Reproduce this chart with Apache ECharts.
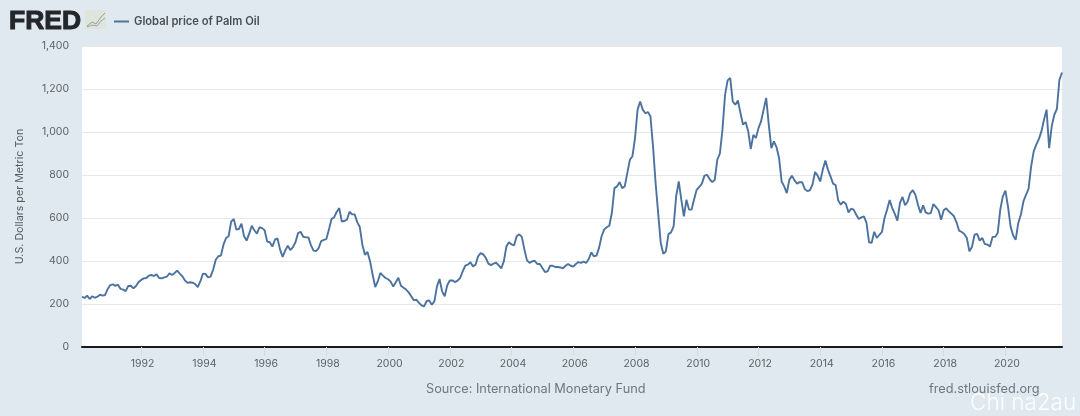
<!DOCTYPE html>
<html>
<head>
<meta charset="utf-8">
<style>html,body{margin:0;padding:0;background:#e1e9f0}#c{width:1080px;height:416px}</style>
<script src="https://cdn.jsdelivr.net/npm/echarts@6/dist/echarts.min.js"></script>
</head>
<body>
<div id="c"></div>
<script>
var seriesName = 'Global price of Palm Oil';
var yTicks = {min: 0, max: 1400, step: 200};
var yAxisTitle = 'U.S. Dollars per Metric Ton';
var sourceText = 'Source: International Monetary Fund';
var siteText = 'fred.stlouisfed.org';
var firstYear = 1990, firstMonth = 2;
var palmOil = [
233,228,239,223,236,229,234,243,239,242,270,288,
291,284,290,270,267,260,284,285,273,284,302,312,
319,321,332,335,330,338,321,319,324,327,343,335,
344,355,341,329,310,298,301,299,293,279,305,341,
340,324,327,360,406,422,425,476,507,515,584,595,
546,549,574,515,495,527,564,543,527,557,553,543,
490,487,467,499,505,453,419,448,471,451,465,487,
530,536,513,510,510,474,448,446,460,493,498,502,
546,595,603,628,646,584,586,592,629,617,617,581,
558,476,429,442,398,336,279,305,344,332,321,315,
304,281,301,322,285,276,267,254,236,217,220,205,
194,189,214,216,197,212,282,316,259,236,287,309,
310,302,309,321,352,378,383,394,375,383,422,437,
431,414,388,381,388,392,380,366,398,468,487,477,
473,515,524,512,453,403,391,398,401,386,386,367,
349,352,378,378,372,372,370,366,378,386,378,374,
386,395,391,397,391,409,440,422,425,460,515,546,
557,564,623,739,747,767,739,747,809,871,887,972,
1104,1142,1104,1087,1093,1073,933,763,623,484,434,445,
525,533,561,701,770,685,608,685,639,639,688,732,
744,760,797,801,781,767,778,871,900,1011,1173,1240,
1251,1142,1127,1147,1088,1034,1046,1003,921,987,972,1018,
1049,1104,1158,1034,925,956,930,879,770,747,716,778,
797,775,760,767,766,735,725,729,755,814,797,770,
825,867,825,794,760,753,682,662,676,665,626,643,
639,615,595,603,608,577,487,485,536,507,522,535,
600,639,684,646,619,588,670,698,659,677,716,729,
708,662,623,659,626,620,623,665,651,636,592,636,
645,631,620,608,580,541,535,526,507,445,465,522,
526,495,507,479,476,468,512,512,530,639,701,727,
654,561,519,499,577,615,677,708,735,840,910,941,
967,1003,1057,1104,925,1026,1080,1107,1243,1277
];
var months = palmOil.map(function (_, i) {
  var t = firstMonth - 1 + i;
  var y = firstYear + Math.floor(t / 12), m = t % 12 + 1;
  return y + '-' + (m < 10 ? '0' + m : m);
});
function isEvenJanuary(i) {
  var p = months[i].split('-');
  return p[1] === '01' && +p[0] % 2 === 0;
}
var uiFont = 'Inter, "Liberation Sans", sans-serif';
var chart = echarts.init(document.getElementById('c'), null, {renderer: 'canvas'});
chart.setOption({
  animation: false,
  backgroundColor: '#e1e9f0',
  textStyle: {fontFamily: uiFont},
  grid: {left: 82, right: 18, top: 46, bottom: 69, backgroundColor: '#ffffff', show: true, borderWidth: 0},
  legend: {
    left: 109, top: 11, icon: 'rect', itemWidth: 15, itemHeight: 2, itemGap: 4,
    textStyle: {fontFamily: uiFont, fontSize: 11.2, fontWeight: 600, color: '#4a4f55'},
    data: [seriesName]
  },
  xAxis: {
    type: 'category', data: months, boundaryGap: false,
    axisLine: {show: true, onZero: false, lineStyle: {color: '#1a1a1a', width: 2}},
    axisTick: {show: true, length: 9, lineStyle: {color: '#d3dbe2'}, interval: function (i) { return isEvenJanuary(i); }},
    axisLabel: {
      color: '#5c6166', fontSize: 10.5, margin: 11, padding: [0, 0, 0, 3],
      interval: function (i) { return isEvenJanuary(i); },
      formatter: function (v) { return v.split('-')[0]; }
    },
    splitLine: {show: false}
  },
  yAxis: {
    type: 'value', min: yTicks.min, max: yTicks.max, interval: yTicks.step,
    name: yAxisTitle, nameLocation: 'middle', nameGap: 57, nameRotate: 90,
    nameTextStyle: {color: '#555b61', fontSize: 10.7},
    axisLine: {show: false}, axisTick: {show: false},
    axisLabel: {
      color: '#5c6166', fontSize: 10.5, margin: 13,
      formatter: function (v) { return v.toString().replace(/\B(?=(\d{3})+$)/g, ','); }
    },
    splitLine: {lineStyle: {color: '#e8e8e8', width: 1}}
  },
  graphic: [
    {type: 'text', left: 8.5, top: 8, style: {text: 'FRED', fontFamily: '"Liberation Sans", Arial, sans-serif', fontWeight: 'bold', fontSize: 26.5, fill: '#23262b', stroke: '#23262b', lineWidth: 1}},
    {type: 'rect', shape: {x: 85, y: 10, width: 21, height: 19}, style: {fill: '#dfe4dc'}},
    {type: 'polyline', shape: {points: [[87, 26], [92, 22], [96, 24], [101, 17], [105, 13]]}, style: {stroke: '#8aa87a', lineWidth: 1, fill: null}},
    {type: 'polyline', shape: {points: [[87, 27], [92, 25], [97, 26], [101, 21], [105, 18]]}, style: {stroke: '#9aa4b0', lineWidth: 1, fill: null}},
    {type: 'text', left: 426, top: 383, style: {text: sourceText, fontFamily: uiFont, fontSize: 12.75, fill: '#6e7680'}},
    {type: 'text', left: 929, top: 383, style: {text: siteText, fontFamily: uiFont, fontSize: 12.75, fill: '#6e7680'}},
    {type: 'text', left: 970, top: 392, style: {text: 'Chi na2au', fontFamily: uiFont, fontSize: 22.5, fontWeight: 300, fill: '#ffffff', opacity: 0.9}}
  ],
  series: [{
    name: seriesName, type: 'line', data: palmOil,
    showSymbol: false, smooth: false,
    lineStyle: {color: '#4c739f', width: 1.9},
    itemStyle: {color: '#4c739f'}
  }]
});
</script>
</body>
</html>
